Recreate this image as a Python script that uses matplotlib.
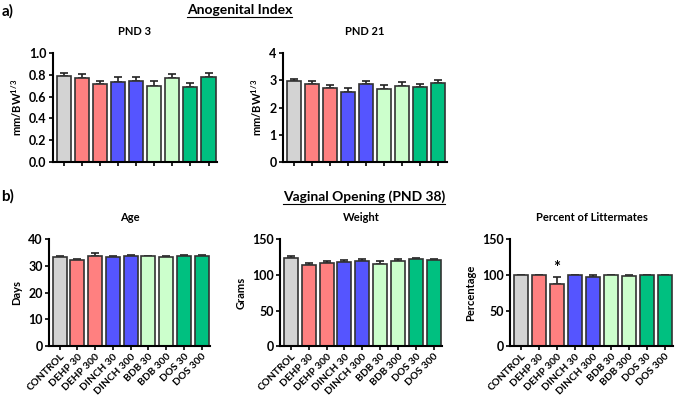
import matplotlib
matplotlib.use("Agg")
import matplotlib.pyplot as plt
from matplotlib.lines import Line2D

plt.rcParams['font.family'] = ['Lato', 'DejaVu Sans']
plt.rcParams['font.weight'] = 'bold'
plt.rcParams['mathtext.fontset'] = 'custom'
plt.rcParams['mathtext.rm'] = 'Lato:bold'
plt.rcParams['mathtext.bf'] = 'Lato:bold'

groups = ['CONTROL', 'DEHP 30', 'DEHP 300', 'DINCH 30', 'DINCH 300',
          'BDB 30', 'BDB 300', 'DOS 30', 'DOS 300']
colors = ['#d3d3d3', '#ff8080', '#ff8080', '#5555ff', '#5555ff',
          '#ccffcc', '#ccffcc', '#00c080', '#00c080']

agi_pnd3 = [0.79, 0.77, 0.716, 0.734, 0.74, 0.70, 0.768, 0.688, 0.777]
agi_pnd3_err = [0.03, 0.04, 0.03, 0.043, 0.037, 0.046, 0.036, 0.037, 0.04]
agi_pnd21 = [2.96, 2.85, 2.70, 2.57, 2.85, 2.69, 2.80, 2.74, 2.89]
agi_pnd21_err = [0.10, 0.13, 0.14, 0.16, 0.11, 0.12, 0.15, 0.13, 0.12]
vo_age = [33.3, 32.3, 33.7, 33.3, 33.5, 33.5, 33.2, 33.6, 33.7]
vo_age_err = [0.4, 0.4, 1.0, 0.5, 0.4, 0.3, 0.4, 0.3, 0.5]
vo_weight = [123.2, 113.5, 115.8, 117.7, 119.5, 114.9, 118.6, 121.4, 120.0]
vo_weight_err = [2.8, 3.3, 3.7, 3.3, 2.3, 4.1, 4.1, 2.6, 2.7]
vo_percent = [100, 100, 87.2, 100, 97.0, 100, 98.3, 100, 100]
vo_percent_err = [0, 0, 9.3, 0, 2.0, 0, 0.9, 0, 0]

fig = plt.figure(figsize=(6.75, 3.99), dpi=100)


def bar_panel(rect, vals, errs, title, ylabel, ylim, yticks, fmt, xlabels):
    ax = fig.add_axes(rect)
    x = range(len(vals))
    ax.bar(x, vals, width=0.78, color=colors, edgecolor='#333333', linewidth=1.2, zorder=2)
    ax.errorbar(x, vals, yerr=[[0] * len(errs), errs], fmt='none', ecolor='#222222',
                elinewidth=1.2, capsize=3, capthick=1.2, zorder=1)
    ax.set_xlim(-0.6, 8.47)
    ax.set_ylim(*ylim)
    ax.set_yticks(yticks)
    ax.set_yticklabels([fmt.format(v) for v in yticks], fontsize=9)
    ax.set_xticks(list(x))
    if xlabels:
        ax.set_xticklabels(groups, rotation=45, ha='right', rotation_mode='anchor', fontsize=7.3)
    else:
        ax.set_xticklabels([])
    ax.spines['top'].set_visible(False)
    ax.spines['right'].set_visible(False)
    for s in ('left', 'bottom'):
        ax.spines[s].set_linewidth(1.5)
    ax.tick_params(axis='both', direction='out', length=3, width=1.2, pad=1.5)
    ax.tick_params(axis='x', pad=1)
    ax.set_title(title, fontsize=8, fontweight='bold', pad=13)
    ax.set_ylabel(ylabel, fontsize=8, fontweight='bold', labelpad=4)
    return ax


bar_panel([0.0785, 0.594, 0.243, 0.273], agi_pnd3, agi_pnd3_err, 'PND 3',
          r'mm/BW$^{1/3}$', (0, 1.0), [0, 0.2, 0.4, 0.6, 0.8, 1.0], '{:.1f}', False)
bar_panel([0.419, 0.594, 0.243, 0.273], agi_pnd21, agi_pnd21_err, 'PND 21',
          r'mm/BW$^{1/3}$', (0, 4), [0, 1, 2, 3, 4], '{:.0f}', False)
bar_panel([0.0726, 0.132, 0.2385, 0.269], vo_age, vo_age_err, 'Age',
          'Days', (0, 40), [0, 10, 20, 30, 40], '{:.0f}', True)
bar_panel([0.415, 0.132, 0.240, 0.269], vo_weight, vo_weight_err, 'Weight',
          'Grams', (0, 150), [0, 50, 100, 150], '{:.0f}', True)
ax_p = bar_panel([0.7556, 0.132, 0.2415, 0.269], vo_percent, vo_percent_err,
                 'Percent of Littermates', 'Percentage', (0, 150), [0, 50, 100, 150], '{:.0f}', True)
ax_p.text(2, vo_percent[2] + vo_percent_err[2] + 2, '*', ha='center', va='bottom',
          fontsize=12, fontweight='bold')

fig.text(0.002, 0.972, 'a)', fontsize=11, fontweight='bold', va='center')
fig.text(0.002, 0.508, 'b)', fontsize=11, fontweight='bold', va='center')
t1 = fig.text(0.355, 0.976, 'Anogenital Index', fontsize=10, fontweight='bold', ha='center', va='center')
t2 = fig.text(0.539, 0.508, 'Vaginal Opening (PND 38)', fontsize=10, fontweight='bold', ha='center', va='center')

fig.canvas.draw()
inv = fig.transFigure.inverted()
for t in (t1, t2):
    bb = t.get_window_extent().transformed(inv)
    fig.add_artist(Line2D([bb.x0, bb.x1], [bb.y0 - 0.004, bb.y0 - 0.004],
                          transform=fig.transFigure, color='black', linewidth=0.8))

fig.savefig('out.png', dpi=100)
